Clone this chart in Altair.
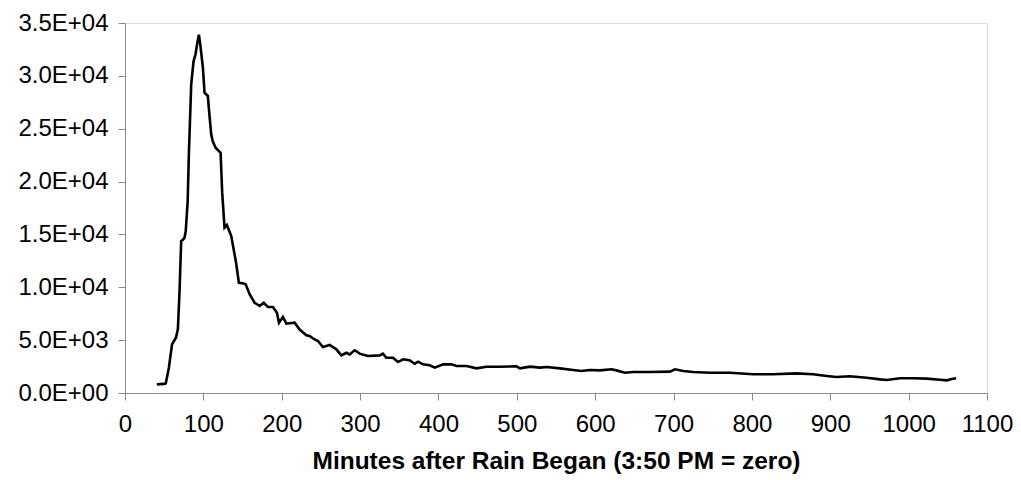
import altair as alt
import pandas as pd

minutes = [
    40.6, 45, 50, 52, 56, 60, 65, 67.5, 69.6, 71.7, 74, 76, 77.5, 80, 81.5, 84.5,
    87.5, 90, 92, 94.3, 96, 99.4, 101.5, 105.7, 107.5, 110, 112, 115.6, 122, 124,
    127, 130, 135.6, 139.8, 142, 145.3, 150, 154, 159, 165.4, 171.8, 177, 182.4,
    188.8, 193.9, 196.5, 201.5, 205.9, 210, 216.5, 222.9, 231.4, 235.6, 239.8,
    246.2, 252.6, 261.2, 269.7, 276, 282.5, 286.7, 293, 299.5, 310, 325, 329,
    333.5, 342, 348.4, 354.8, 363, 369.7, 374, 380.3, 388.8, 395.3, 406, 416.6,
    423, 435.8, 448.5, 461, 478, 499.6, 504, 517, 529.4, 538, 554.9, 571.9, 582.5,
    593, 606, 620.9, 627, 638, 648.4, 669.7, 695.4, 701.8, 712.4, 725, 746.5, 772,
    801.8, 827, 857, 878, 895.5, 908, 925, 946.5, 963.5, 972, 989, 1006, 1023,
    1040, 1049, 1055, 1060.6,
]
values = [
    820, 840, 860, 900, 2390, 4600, 5230, 6050, 9650, 14380, 14500, 14700, 15300,
    18160, 22600, 29200, 31400, 32040, 33000, 33900, 33000, 30770, 28400, 28100,
    26500, 24470, 23800, 23200, 22730, 19000, 15640, 15890, 14850, 13120, 12200,
    10430, 10380, 10280, 9340, 8540, 8230, 8540, 8140, 8140, 7600, 6650, 7190,
    6560, 6600, 6650, 6000, 5460, 5390, 5170, 4920, 4350, 4540, 4130, 3560, 3810,
    3650, 4040, 3720, 3500, 3560, 3720, 3340, 3340, 2930, 3190, 3100, 2770, 2960,
    2710, 2620, 2400, 2710, 2710, 2550, 2550, 2330, 2490, 2490, 2520, 2330, 2490,
    2400, 2460, 2330, 2180, 2080, 2180, 2140, 2240, 2140, 1920, 1990, 1990, 2020,
    2240, 2080, 1980, 1920, 1920, 1770, 1770, 1860, 1770, 1610, 1510, 1580, 1450,
    1290, 1230, 1390, 1390, 1360, 1260, 1200, 1320, 1390,
]

x_ticks = [0, 100, 200, 300, 400, 500, 600, 700, 800, 900, 1000, 1100]
y_ticks = [0, 5000, 10000, 15000, 20000, 25000, 30000, 35000]
y_tick_labels = ["0.0E+00", "5.0E+03", "1.0E+04", "1.5E+04", "2.0E+04",
                 "2.5E+04", "3.0E+04", "3.5E+04"]
x_title = "Minutes after Rain Began (3:50 PM = zero)"

df = pd.DataFrame({"minutes": minutes, "value": values})

label_expr = "[" + ",".join("'%s'" % s for s in y_tick_labels) + "][indexof([" + \
    ",".join(str(v) for v in y_ticks) + "], datum.value)]"

FONT = "Liberation Sans"

chart = alt.Chart(df).mark_line(color="black", strokeWidth=2.6).encode(
    x=alt.X("minutes:Q",
            scale=alt.Scale(domain=[0, 1100], nice=False),
            axis=alt.Axis(values=x_ticks, format="d", title=x_title, grid=False,
                          tickSize=7, labelPadding=12, labelFontSize=24,
                          titleFontSize=24.5, titleFontWeight="bold",
                          titlePadding=13, labelFlush=False)),
    y=alt.Y("value:Q",
            scale=alt.Scale(domain=[0, 35000], nice=False),
            axis=alt.Axis(values=y_ticks, title=None, grid=False,
                          tickSize=7, labelPadding=10, labelFontSize=24,
                          labelExpr=label_expr, labelFlush=False)),
).properties(
    width=862, height=370,
    autosize=alt.AutoSizeParams(type="none"),
    padding={"left": 125, "top": 23, "right": 34, "bottom": 87},
).configure_view(stroke=None).configure_axis(
    domainColor="black", tickColor="black", labelColor="black",
    titleColor="black", labelFont=FONT, titleFont=FONT, domainWidth=1,
    tickWidth=1,
).configure(background="white")

chart.save("out.html", embed_options={"renderer": "svg", "actions": False})
